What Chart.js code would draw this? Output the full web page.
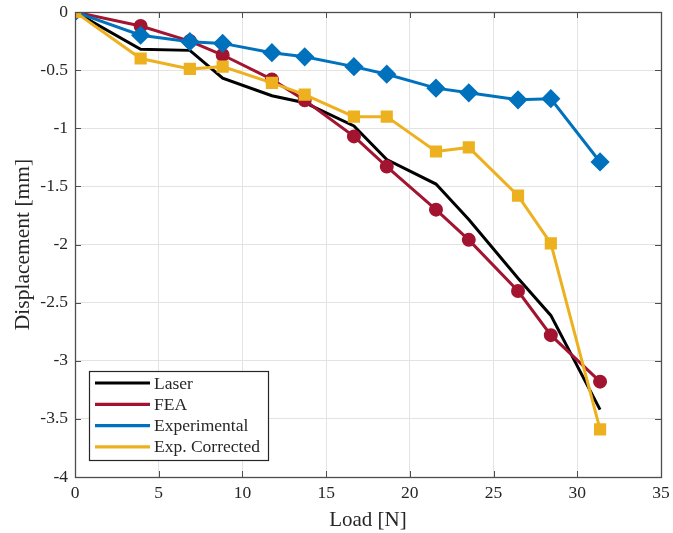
<!DOCTYPE html>
<html>
<head>
<meta charset="utf-8">
<script src="https://cdn.jsdelivr.net/npm/chart.js@4.4.1/dist/chart.umd.min.js"></script>
<style>
html,body{margin:0;padding:0;background:#fff;}
#wrap{width:673px;height:533px;position:relative;}
</style>
</head>
<body>
<div id="wrap"><canvas id="c" width="673" height="533"></canvas></div>
<script>
const loads = [0, 3.92, 6.86, 8.82, 11.76, 13.72, 16.66, 18.62, 21.56, 23.52, 26.46, 28.42, 31.36];
const laser = [0, -0.32, -0.33, -0.57, -0.72, -0.78, -0.98, -1.27, -1.48, -1.785, -2.29, -2.61, -3.42];
const fea = [0, -0.12, -0.25, -0.37, -0.58, -0.76, -1.07, -1.33, -1.70, -1.96, -2.40, -2.78, -3.18];
const experimental = [0, -0.20, -0.255, -0.27, -0.35, -0.385, -0.47, -0.535, -0.655, -0.695, -0.755, -0.746, -1.29];
const expCorrected = [0, -0.40, -0.49, -0.47, -0.61, -0.71, -0.90, -0.90, -1.20, -1.165, -1.58, -1.99, -3.59];
const seriesNames = ['Laser', 'FEA', 'Experimental', 'Exp. Corrected'];
const xTicks = [0, 5, 10, 15, 20, 25, 30, 35];
const yTicks = [0, -0.5, -1, -1.5, -2, -2.5, -3, -3.5, -4];

const FONT = '"Liberation Serif", "DejaVu Serif", serif';
const TXT = '#262626';
const AX = '#4d4d4d';

function pts(ys){ return loads.map((x,i)=>({x:x, y:ys[i]})); }

const boxPlugin = {
  id: 'boxPlugin',
  afterDatasetsDraw(chart){
    const {ctx, chartArea:a, scales} = chart;
    ctx.save();
    ctx.strokeStyle = AX; ctx.lineWidth = 1;
    const tl = 6;
    xTicks.forEach(v=>{
      const px = Math.round(scales.x.getPixelForValue(v))+0.5;
      ctx.beginPath(); ctx.moveTo(px,a.bottom); ctx.lineTo(px,a.bottom-tl);
      ctx.moveTo(px,a.top); ctx.lineTo(px,a.top+tl); ctx.stroke();
    });
    yTicks.forEach(v=>{
      const py = Math.round(scales.y.getPixelForValue(v))+0.5;
      ctx.beginPath(); ctx.moveTo(a.left,py); ctx.lineTo(a.left+tl,py);
      ctx.moveTo(a.right,py); ctx.lineTo(a.right-tl,py); ctx.stroke();
    });
    ctx.lineWidth = 1.3;
    ctx.strokeRect(Math.round(a.left)+0.5, Math.round(a.top)+0.5, Math.round(a.right-a.left), Math.round(a.bottom-a.top));
    // legend
    const lx = a.left + 14, ly = a.top + 359, lw = 179, lh = 89;
    ctx.fillStyle = '#fff';
    ctx.fillRect(lx, ly, lw, lh);
    ctx.strokeStyle = TXT; ctx.lineWidth = 1.2;
    ctx.strokeRect(lx+0.5, ly+0.5, lw, lh);
    ctx.font = '17.5px ' + FONT;
    ctx.textBaseline = 'middle';
    chart.data.datasets.forEach((ds,i)=>{
      const yy = ly + 12 + i*21.3;
      ctx.strokeStyle = ds.borderColor; ctx.lineWidth = 3.2;
      ctx.beginPath(); ctx.moveTo(lx+6, yy); ctx.lineTo(lx+61, yy); ctx.stroke();
      ctx.fillStyle = TXT;
      ctx.fillText(ds.label, lx+65, yy+1);
    });
    ctx.restore();
  }
};

new Chart(document.getElementById('c'), {
  type: 'line',
  data: {
    datasets: [
      {label: seriesNames[0], data: pts(laser), borderColor:'#000000', backgroundColor:'#000000', borderWidth:3, pointRadius:0, order:3},
      {label: seriesNames[1], data: pts(fea), borderColor:'#A2142F', backgroundColor:'#A2142F', borderWidth:3, pointStyle:'circle', pointRadius:5.5, order:2},
      {label: seriesNames[2], data: pts(experimental), borderColor:'#0072BD', backgroundColor:'#0072BD', borderWidth:3, pointStyle:'rectRot', pointRadius:7.5, order:1},
      {label: seriesNames[3], data: pts(expCorrected), borderColor:'#EDB120', backgroundColor:'#EDB120', borderWidth:3, pointStyle:'rect', pointRadius:6.5, order:0}
    ]
  },
  options: {
    responsive:false, animation:false, devicePixelRatio:1,
    layout:{padding:{left:0, right:12, top:12, bottom:0}},
    plugins:{legend:{display:false}, tooltip:{enabled:false}},
    elements:{line:{tension:0}, point:{borderWidth:0}},
    scales:{
      x:{type:'linear', min:0, max:35,
        afterBuildTicks(s){ s.ticks = xTicks.map(v=>({value:v})); },
        afterFit(s){ s.height = 56; s.paddingLeft = 0; s.paddingRight = 0; },
        grid:{color:'#e3e3e3', lineWidth:1, drawTicks:false},
        border:{display:false},
        ticks:{padding:6, color:TXT, font:{family:FONT, size:17.5}, maxRotation:0, callback:v=>String(v)},
        title:{display:true, text:'Load [N]', color:TXT, font:{family:FONT, size:21}, padding:{top:1,bottom:0}}
      },
      y:{type:'linear', min:-4, max:0,
        afterBuildTicks(s){ s.ticks = yTicks.map(v=>({value:v})); },
        afterFit(s){ s.width = 75; s.paddingTop = 0; s.paddingBottom = 0; },
        grid:{color:'#e3e3e3', lineWidth:1, drawTicks:false},
        border:{display:false},
        ticks:{padding:7, color:TXT, font:{family:FONT, size:17.5}, callback:v=>String(v)},
        title:{display:true, text:'Displacement [mm]', color:TXT, font:{family:FONT, size:21.5}, padding:{top:10,bottom:0}}
      }
    }
  },
  plugins:[boxPlugin]
});
</script>
</body>
</html>
